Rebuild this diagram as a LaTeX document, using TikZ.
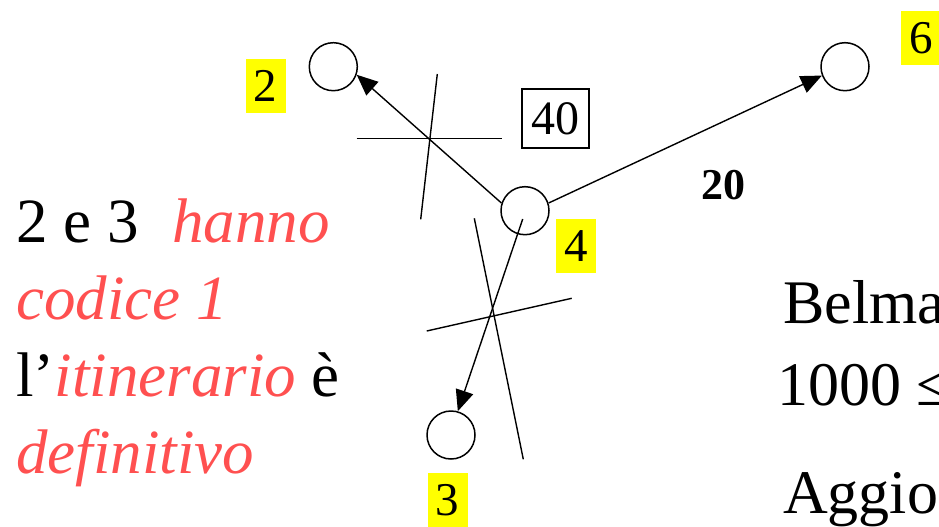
\documentclass[tikz,border=0pt]{standalone}
\usepackage{fontspec}
\setmainfont{Liberation Serif}
\usetikzlibrary{arrows.meta}
\definecolor{accent}{HTML}{FF5050}
\definecolor{hilite}{HTML}{FFFF00}

\begin{document}
\begin{tikzpicture}[x=1pt,y=-1pt,
  vertex/.style={circle,draw,line width=1.5pt,minimum size=48pt,inner sep=0pt},
  tag/.style={fill=hilite,minimum width=40pt,minimum height=54pt,inner sep=0pt,
    font=\fontsize{47}{54}\selectfont},
  link/.style={line width=1.4pt,-{Triangle[length=21pt,width=18pt]}},
  cut/.style={line width=1.4pt},
  body/.style={font=\fontsize{63}{77}\selectfont,inner sep=0pt,anchor=base west},
  hl/.style={font=\fontsize{63}{77}\selectfont\itshape,text=accent,inner sep=0pt,anchor=base west},
  side/.style={font=\fontsize{62}{77}\selectfont,inner sep=0pt,anchor=base west}
]
\useasboundingbox (0,0) rectangle (939,527);
\clip (0,0) rectangle (939,527);

% graph vertices
\node[vertex] (n2) at (333.3,66.7) {};
\node[vertex] (n4) at (525,210.7) {};
\node[vertex] (n3) at (451,435) {};
\node[vertex] (n6) at (845,66.7) {};

% vertex labels
\node[tag] (t2) at (265.5,86) {2};
\node[tag] (t4) at (576,246) {4};
\node[tag] (t3) at (447.5,500) {3};
\node[tag] (t6) at (921,38) {6};

% weights
\node[draw,line width=1.4pt,minimum width=67pt,minimum height=59pt,inner sep=0pt,
  font=\fontsize{48}{55}\selectfont] (w40) at (555.5,118.5) {40};
\node[font=\fontsize{44}{50}\selectfont\bfseries,anchor=base west,inner sep=0pt]
  (w20) at (701,199) {20};

% arcs leaving vertex 4
\coordinate (s4) at (522.7,219);
\draw[link] (n4.162) -- (n2.-19);
\draw[link] (n4.18) -- (n6.201);
\draw[link] (s4) -- (n3.74);

% crossed-out arcs
\coordinate (a1) at (356.7,138.3); \coordinate (a2) at (501.7,138.3);
\coordinate (b1) at (437.3,74);    \coordinate (b2) at (420.7,219.3);
\coordinate (c1) at (426.7,331);   \coordinate (c2) at (571.7,298.3);
\coordinate (d1) at (474.3,218.3); \coordinate (d2) at (523.3,459.3);
\draw[cut] (a1) -- (a2);
\draw[cut] (b1) -- (b2);
\draw[cut] (c1) -- (c2);
\draw[cut] (d1) -- (d2);

% left-hand remark
\node[body] (l1) at (16,242) {2 e 3};
\node[hl] (l1b) at (172,242) {hanno};
\node[hl] (l2) at (16,319) {codice 1};
\node[body] (l3) at (16,396) {l’\textcolor{accent}{\itshape itinerario} è};
\node[hl] (l4) at (16,473) {definitivo};

% right-hand text, running off the right edge
\node[side] (r1) at (783,323) {Belma};
\node[side] (r2) at (777,405) {1000 ≤};
\node[side] (r3) at (783,513) {Aggio};
\end{tikzpicture}
\end{document}
